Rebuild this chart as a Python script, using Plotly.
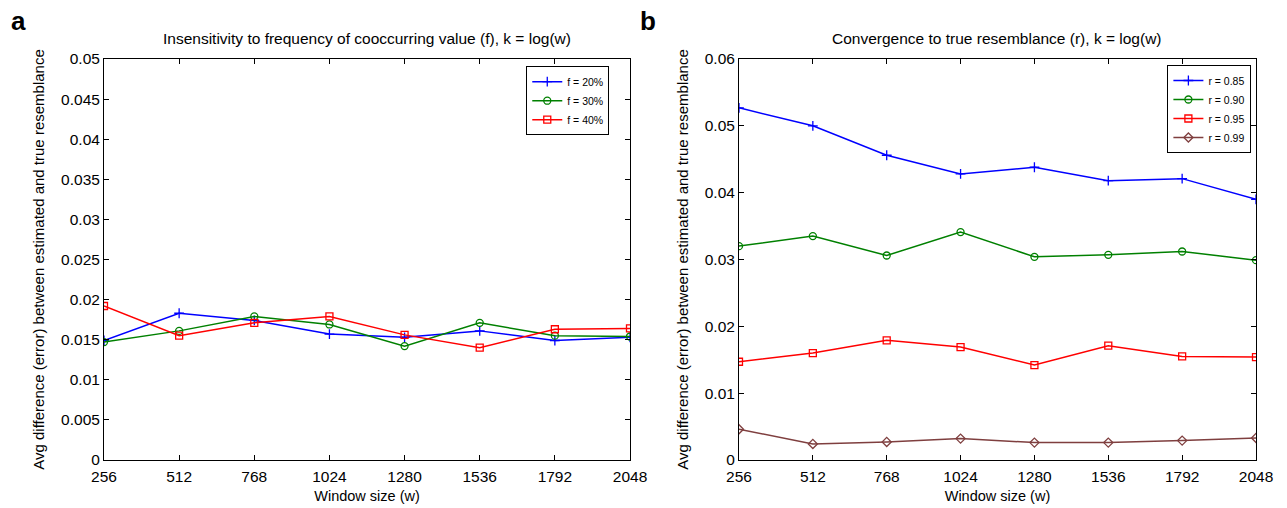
import plotly.graph_objects as go

window_sizes = [256, 512, 768, 1024, 1280, 1536, 1792, 2048]

# Panel a: insensitivity to frequency f
f20 = [0.0149, 0.0183, 0.0174, 0.0157, 0.0153, 0.0161, 0.0149, 0.0153]
f30 = [0.0147, 0.0161, 0.0179, 0.0169, 0.0142, 0.0171, 0.0155, 0.0154]
f40 = [0.0192, 0.0155, 0.0171, 0.0179, 0.0156, 0.0140, 0.0163, 0.0164]

# Panel b: convergence to true resemblance r
r85 = [0.0527, 0.0500, 0.0456, 0.0428, 0.0438, 0.0418, 0.0421, 0.0390]
r90 = [0.0320, 0.0335, 0.0306, 0.0341, 0.0304, 0.0307, 0.0312, 0.0299]
r95 = [0.0147, 0.0160, 0.0179, 0.0169, 0.0142, 0.0171, 0.0155, 0.0154]
r99 = [0.0046, 0.0024, 0.0027, 0.0032, 0.0026, 0.0026, 0.0029, 0.0033]

x_ticks = [256, 512, 768, 1024, 1280, 1536, 1792, 2048]
ya_ticks = [0, 0.005, 0.01, 0.015, 0.02, 0.025, 0.03, 0.035, 0.04, 0.045, 0.05]
ya_text = ["0", "0.005", "0.01", "0.015", "0.02", "0.025", "0.03", "0.035", "0.04", "0.045", "0.05"]
yb_ticks = [0, 0.01, 0.02, 0.03, 0.04, 0.05, 0.06]
yb_text = ["0", "0.01", "0.02", "0.03", "0.04", "0.05", "0.06"]

FONT = "Liberation Sans, Arial, Helvetica, sans-serif"

fig = go.Figure()

def add(x, y, name, color, symbol, xa, ya, leg):
    fig.add_trace(go.Scatter(
        x=x, y=y, name=name, mode="lines+markers",
        line=dict(color=color, width=1.5),
        marker=dict(symbol=symbol, size=7, color=color,
                    line=dict(color=color, width=1.3)),
        xaxis=xa, yaxis=ya, legend=leg,
    ))

add(window_sizes, f20, "f = 20%", "#0000ff", "cross-thin-open", "x", "y", "legend")
add(window_sizes, f30, "f = 30%", "#008000", "circle-open", "x", "y", "legend")
add(window_sizes, f40, "f = 40%", "#ff0000", "square-open", "x", "y", "legend")

add(window_sizes, r85, "r = 0.85", "#0000ff", "cross-thin-open", "x2", "y2", "legend2")
add(window_sizes, r90, "r = 0.90", "#008000", "circle-open", "x2", "y2", "legend2")
add(window_sizes, r95, "r = 0.95", "#ff0000", "square-open", "x2", "y2", "legend2")
add(window_sizes, r99, "r = 0.99", "#7f3f3f", "diamond-open", "x2", "y2", "legend2")

axis_common = dict(
    showline=True, linecolor="black", linewidth=1, mirror="allticks",
    ticks="inside", ticklen=5, tickcolor="black", showgrid=False, zeroline=False,
    automargin=False,
    tickfont=dict(family=FONT, size=15.5, color="black"),
)

ytitle = "Avg difference (error) between estimated and true resemblance"

fig.update_layout(
    width=1287, height=508,
    margin=dict(l=104, r=31, t=59, b=48),
    paper_bgcolor="white", plot_bgcolor="white",
    font=dict(family=FONT, color="black"),
    xaxis=dict(domain=[0, 0.4566], range=[256, 2048], tickvals=x_ticks,
               ticklabelstandoff=2,
               title=dict(text="Window size (w)", font=dict(size=14.5), standoff=7), **axis_common),
    yaxis=dict(range=[0, 0.05], tickvals=ya_ticks, ticktext=ya_text,
               title=dict(text=ytitle, font=dict(size=15), standoff=12), **axis_common),
    xaxis2=dict(domain=[0.5512, 1], range=[256, 2048], tickvals=x_ticks, anchor="y2",
                ticklabelstandoff=2,
                title=dict(text="Window size (w)", font=dict(size=14.5), standoff=7), **axis_common),
    yaxis2=dict(range=[0, 0.06], tickvals=yb_ticks, ticktext=yb_text, anchor="x2",
                title=dict(text=ytitle, font=dict(size=15), standoff=12), **axis_common),
    legend=dict(x=0.4566 - 0.018, y=0.982, xanchor="right", yanchor="top",
                bordercolor="black", borderwidth=1, bgcolor="white",
                font=dict(size=10.5), tracegroupgap=0, itemwidth=30),
    legend2=dict(x=0.996, y=0.985, xanchor="right", yanchor="top",
                 bordercolor="black", borderwidth=1, bgcolor="white",
                 font=dict(size=10.5), tracegroupgap=0, itemwidth=30),
    showlegend=True,
)

annotations = [
    dict(text="Insensitivity to frequency of cooccurring value (f), k = log(w)",
         xref="paper", yref="paper", x=0.4566 / 2, y=1.0, yshift=21,
         xanchor="center", yanchor="middle", showarrow=False, font=dict(size=15.5)),
    dict(text="Convergence to true resemblance (r), k = log(w)",
         xref="paper", yref="paper", x=(0.5512 + 1) / 2, y=1.0, yshift=21,
         xanchor="center", yanchor="middle", showarrow=False, font=dict(size=15.5)),
    dict(text="<b>a</b>", xref="paper", yref="paper", x=0, y=1.0, xshift=-86, yshift=55,
         xanchor="center", yanchor="top", showarrow=False, font=dict(size=26)),
    dict(text="<b>b</b>", xref="paper", yref="paper", x=0.5512, y=1.0, xshift=-91, yshift=55,
         xanchor="center", yanchor="top", showarrow=False, font=dict(size=26)),
]
fig.update_layout(annotations=annotations)

# remove the default 8px page margin so the figure fills the window exactly
fig.write_html("out.html", config={"displayModeBar": False},
               post_script="document.body.style.margin='0';")
